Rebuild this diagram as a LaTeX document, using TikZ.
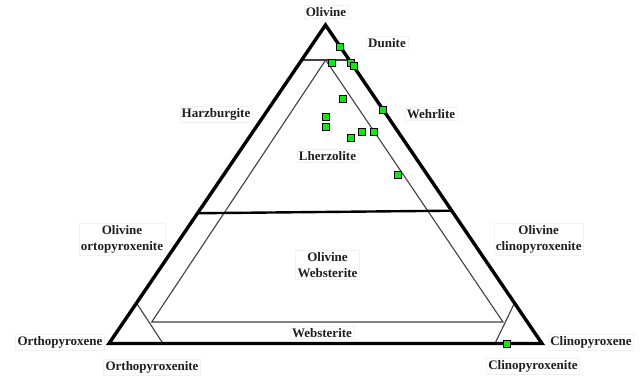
\documentclass[tikz,border=0pt]{standalone}
\usepackage{fontspec}
\setmainfont{Liberation Serif}
\usetikzlibrary{calc}
\definecolor{ptgreen}{RGB}{20,230,20}
\begin{document}
\begin{tikzpicture}[x=1pt,y=-1pt,
  lbl/.style={draw=black!5, fill=white, inner sep=2pt, align=center, text=black!88,
    font=\fontsize{13}{16}\selectfont\bfseries},
  thick edge/.style={line width=3.4pt, line join=miter},
  mid edge/.style={line width=2.4pt},
  thin edge/.style={line width=1.1pt, draw=black!75},
  pt/.style={draw=black, line width=0.9pt, fill=ptgreen, minimum size=7pt, inner sep=0pt, rectangle}]
\useasboundingbox (0,0) rectangle (643,376);
\fill[white] (0,0) rectangle (643,376);
% vertices
\coordinate (T) at (325.5,25);
\coordinate (L) at (109,343.5);
\coordinate (R) at (542,343.5);
% dunite line
\coordinate (d1) at ($(T)!0.11!(L)$);
\coordinate (d2) at ($(T)!0.11!(R)$);
\coordinate (a) at (325.7,60);
% 40% line
\coordinate (w1) at ($(T)!0.591!(L)$);
\coordinate (w2) at ($(T)!0.583!(R)$);
% websterite inner corners
\coordinate (iL) at (151.7,322);
\coordinate (iR) at (503,322);
\coordinate (oL1) at ($(T)!0.873!(L)$);
\coordinate (oL2) at (163,343.5);
\coordinate (oR1) at ($(T)!0.873!(R)$);
\coordinate (oR2) at (495,343.5);
% thin lines
\draw[thin edge] (d1) -- (d2);
\draw[thin edge] (a) -- (iL) -- (iR) -- cycle;
\draw[thin edge] (oL1) -- (oL2);
\draw[thin edge] (oR1) -- (oR2);
\draw[mid edge] (w1) -- (w2);
\draw[thick edge] (T) -- (L) -- (R) -- cycle;
% labels
\node[lbl] (ol) at (326,12) {Olivine};
\node[lbl] (du) at (387,43) {Dunite};
\node[lbl] (hz) at (216,114) {Harzburgite};
\node[lbl] (we) at (431,114) {Wehrlite};
\node[lbl] (lh) at (327.5,156) {Lherzolite};
\node[lbl] (oo) at (122,239.5) {Olivine\\ortopyroxenite};
\node[lbl] (oc) at (538.7,239.5) {Olivine\\clinopyroxenite};
\node[lbl] (ow) at (327.5,265) {Olivine\\Websterite};
\node[lbl] (ws) at (322,333) {Websterite};
\node[lbl] (opx) at (60,342.5) {Orthopyroxene};
\node[lbl] (cpx) at (591,342.5) {Clinopyroxene};
\node[lbl] (opxt) at (152,367) {Orthopyroxenite};
\node[lbl] (cpxt) at (533,366) {Clinopyroxenite};
% data points
\node[pt] (p1) at (340.3,46.7) {};
\node[pt] (p2) at (332.3,63.3) {};
\node[pt] (p3) at (351.3,63.3) {};
\node[pt] (p4) at (353.7,65.7) {};
\node[pt] (p5) at (342.7,99) {};
\node[pt] (p6) at (383,109.7) {};
\node[pt] (p7) at (326,116.7) {};
\node[pt] (p8) at (326,126.7) {};
\node[pt] (p9) at (362,131.7) {};
\node[pt] (p10) at (374.3,131.7) {};
\node[pt] (p11) at (351.3,138) {};
\node[pt] (p12) at (398,174.7) {};
\node[pt] (p13) at (506.7,344.3) {};
\end{tikzpicture}
\end{document}
